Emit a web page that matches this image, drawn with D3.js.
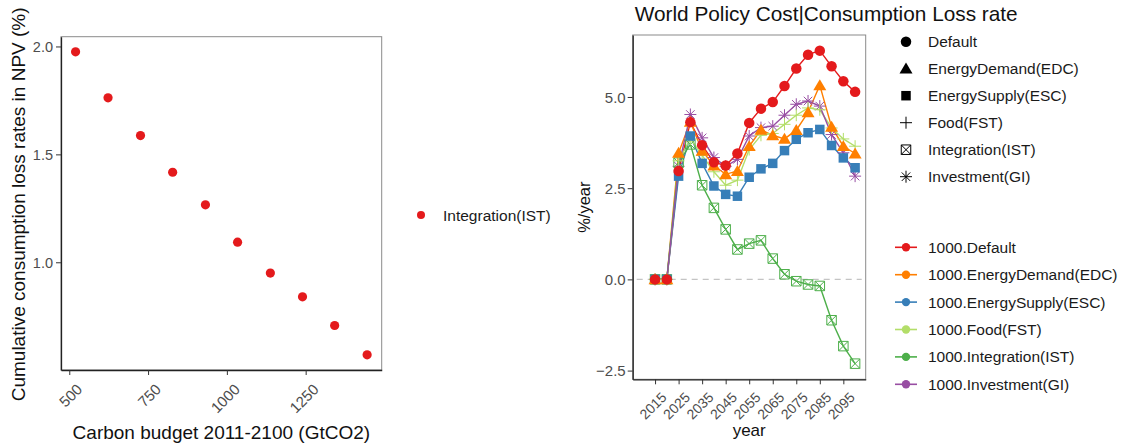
<!DOCTYPE html>
<html>
<head>
<meta charset="utf-8">
<script src="https://cdn.jsdelivr.net/npm/d3@7"></script>
<style>
  html, body { margin: 0; padding: 0; background: #fff; }
  svg text { font-family: "Liberation Sans", Arial, sans-serif; }
</style>
</head>
<body>
<svg id="chart" width="1125" height="447"></svg>
<script>
// ---- Left panel: cumulative NPV consumption loss vs carbon budget ----
const budgets = [520, 623, 726, 828, 932, 1034, 1138, 1240, 1342, 1445];
const npvLoss = [1.975, 1.762, 1.587, 1.417, 1.266, 1.093, 0.950, 0.840, 0.707, 0.571];
const budgetTicks = [500, 750, 1000, 1250];
const npvTicks = [1.0, 1.5, 2.0];
const leftLegend = "Integration(IST)";

// ---- Right panel: consumption loss rate over time by scenario ----
const years = [2015, 2020, 2025, 2030, 2035, 2040, 2045, 2050, 2055, 2060,
               2065, 2070, 2075, 2080, 2085, 2090, 2095, 2100];
const yearDomain = [2010, 2100];
const yearTicks = [2015, 2025, 2035, 2045, 2055, 2065, 2075, 2085, 2095];
const rateTicks = [-2.5, 0.0, 2.5, 5.0];

const scenarioNames = ["Default", "EnergyDemand(EDC)", "EnergySupply(ESC)",
                       "Food(FST)", "Integration(IST)", "Investment(GI)"];
const scenarioColors = ["#e41a1c", "#ff7f00", "#377eb8", "#b3de69", "#4daf4a", "#984ea3"];
const scenarioShapes = ["circle", "triangle", "square", "plus", "squarex", "asterisk"];

const rateDefault = [0, 0, 2.97, 4.31, 3.68, 3.21, 3.12, 3.45, 4.29, 4.68, 4.86, 5.30, 5.78, 6.16, 6.27, 5.84, 5.43, 5.14];
const rateEDC     = [0, 0, 3.47, 4.32, 3.52, 3.12, 2.88, 2.97, 3.65, 4.10, 3.95, 3.85, 4.09, 4.58, 5.32, 4.18, 3.65, 3.45];
const rateESC     = [0, 0, 2.83, 3.93, 3.18, 2.56, 2.33, 2.28, 2.80, 3.03, 3.18, 3.53, 3.84, 4.02, 4.11, 3.67, 3.33, 3.06];
const rateFST     = [0, 0, 3.25, 3.85, 3.40, 2.95, 2.58, 2.72, 3.56, 3.95, 4.00, 4.25, 4.50, 4.70, 4.65, 4.15, 3.85, 3.65];
const rateIST     = [0, 0, 3.20, 3.70, 2.58, 1.96, 1.37, 0.82, 0.98, 1.07, 0.57, 0.14, -0.05, -0.14, -0.18, -1.12, -1.83, -2.31];
const rateGI      = [0, 0, 3.10, 4.52, 3.88, 3.34, 3.10, 3.29, 3.93, 4.16, 4.20, 4.50, 4.80, 4.89, 4.75, 3.97, 3.47, 2.83];
const scenarioRates = [rateDefault, rateEDC, rateESC, rateFST, rateIST, rateGI];

const svg = d3.select("#chart");
const tickGray = "#4d4d4d";

// pad a numeric extent by 5% on each side
function expand(ext) {
  const pad = (ext[1] - ext[0]) * 0.05;
  return [ext[0] - pad, ext[1] + pad];
}

// marker paths centred on (0,0)
function shapePath(shape, s) {
  const h = s / 2;
  switch (shape) {
    case "circle":
      return `M${h},0A${h},${h} 0 1,1 ${-h},0A${h},${h} 0 1,1 ${h},0Z`;
    case "triangle": {
      const w = s * 0.62, t = s * 0.58;
      return `M0,${-t}L${w},${t * 0.8}L${-w},${t * 0.8}Z`;
    }
    case "square":
      return `M${-h},${-h}H${h}V${h}H${-h}Z`;
    case "plus":
      return `M${-h - 1},0H${h + 1}M0,${-h - 1}V${h + 1}`;
    case "squarex":
      return `M${-h},${-h}H${h}V${h}H${-h}ZM${-h},${-h}L${h},${h}M${h},${-h}L${-h},${h}`;
    case "asterisk": {
      const r = h + 1, d = r * 0.707;
      return `M${-r},0H${r}M0,${-r}V${r}M${-d},${-d}L${d},${d}M${d},${-d}L${-d},${d}`;
    }
  }
}
const filledShapes = new Set(["circle", "triangle", "square"]);
function markerSize(shape) {
  return { circle: 10.5, triangle: 10.5, square: 9.5, plus: 10, squarex: 9.5, asterisk: 10 }[shape];
}

// ================= LEFT PANEL =================
{
  const L = { x0: 61, x1: 381.7, y0: 36.7, y1: 370 };
  const x = d3.scaleLinear().domain(expand(d3.extent(budgets))).range([L.x0, L.x1]);
  const y = d3.scaleLinear().domain(expand(d3.extent(npvLoss))).range([L.y1, L.y0]);
  const g = svg.append("g");

  g.append("rect").attr("x", L.x0).attr("y", L.y0)
    .attr("width", L.x1 - L.x0).attr("height", L.y1 - L.y0)
    .attr("fill", "none").attr("stroke", "#8a8a8a").attr("stroke-width", 1);

  const xAxis = g.append("g").attr("transform", `translate(0,${L.y1})`)
    .call(d3.axisBottom(x).tickValues(budgetTicks).tickSize(5).tickSizeOuter(0).tickFormat(d3.format("d")));
  const yAxis = g.append("g").attr("transform", `translate(${L.x0},0)`)
    .call(d3.axisLeft(y).tickValues(npvTicks).tickSize(5).tickSizeOuter(0).tickFormat(d3.format(".1f")));
  [xAxis, yAxis].forEach(a => {
    a.select(".domain").attr("stroke", "#222").attr("stroke-width", 1.3);
    a.selectAll(".tick line").attr("stroke", "#333").attr("stroke-width", 1);
    a.selectAll(".tick text").attr("fill", tickGray).style("font-size", "14.5px");
  });
  yAxis.selectAll(".tick text").attr("x", -8).attr("dy", "0.35em");
  xAxis.selectAll(".tick text")
    .style("font-size", "15px")
    .attr("text-anchor", "end").attr("x", 0).attr("y", 0).attr("dy", "0.7em")
    .attr("transform", "translate(6,13) rotate(-45)");

  g.selectAll("circle.pt").data(budgets).join("circle")
    .attr("class", "pt")
    .attr("cx", (d) => x(d)).attr("cy", (d, i) => y(npvLoss[i]))
    .attr("r", 4.6).attr("fill", "#e41a1c");

  g.append("text").attr("x", (L.x0 + L.x1) / 2).attr("y", 439)
    .attr("text-anchor", "middle").style("font-size", "19px").attr("fill", "#111")
    .text("Carbon budget 2011-2100 (GtCO2)");
  g.append("text").attr("transform", `translate(25,${(L.y0 + L.y1) / 2 + 1}) rotate(-90)`)
    .attr("text-anchor", "middle").style("font-size", "19px").attr("fill", "#111")
    .text("Cumulative consumption loss rates in NPV (%)");

  g.append("circle").attr("cx", 421).attr("cy", 215).attr("r", 4).attr("fill", "#e41a1c");
  g.append("text").attr("x", 443).attr("y", 215).attr("dy", "0.36em")
    .style("font-size", "15.5px").attr("fill", "#1a1a1a").text(leftLegend);
}

// ================= RIGHT PANEL =================
{
  const R = { x0: 632.7, x1: 865.7, y0: 35, y1: 379.3 };
  const x = d3.scaleLinear().domain(expand(yearDomain)).range([R.x0, R.x1]);
  const allRates = scenarioRates.flat();
  const y = d3.scaleLinear().domain(expand(d3.extent(allRates))).range([R.y1, R.y0]);
  const g = svg.append("g");

  g.append("rect").attr("x", R.x0).attr("y", R.y0)
    .attr("width", R.x1 - R.x0).attr("height", R.y1 - R.y0)
    .attr("fill", "none").attr("stroke", "#8a8a8a").attr("stroke-width", 1);

  // zero reference line
  g.append("line").attr("x1", R.x0 + 4).attr("x2", R.x1 - 4)
    .attr("y1", y(0)).attr("y2", y(0))
    .attr("stroke", "#c4c4c4").attr("stroke-width", 1.2).attr("stroke-dasharray", "6,5");

  const xAxis = g.append("g").attr("transform", `translate(0,${R.y1})`)
    .call(d3.axisBottom(x).tickValues(yearTicks).tickSize(5).tickSizeOuter(0).tickFormat(d3.format("d")));
  const yAxis = g.append("g").attr("transform", `translate(${R.x0},0)`)
    .call(d3.axisLeft(y).tickValues(rateTicks).tickSize(5).tickSizeOuter(0).tickFormat(d3.format(".1f")));
  [xAxis, yAxis].forEach(a => {
    a.select(".domain").attr("stroke", "#222").attr("stroke-width", 1.3);
    a.selectAll(".tick line").attr("stroke", "#333").attr("stroke-width", 1);
    a.selectAll(".tick text").attr("fill", tickGray).style("font-size", "15px");
  });
  yAxis.selectAll(".tick text").attr("x", -7).attr("dy", "0.35em");
  xAxis.selectAll(".tick text")
    .style("font-size", "14px")
    .attr("text-anchor", "end").attr("x", 0).attr("y", 0).attr("dy", "0.7em")
    .attr("transform", "translate(5,12) rotate(-45)");

  const line = d3.line().x((d, i) => x(years[i])).y(d => y(d));
  scenarioRates.forEach((vals, s) => {
    g.append("path").datum(vals).attr("d", line)
      .attr("fill", "none").attr("stroke", scenarioColors[s]).attr("stroke-width", 1.4);
  });

  // markers: later scenarios first so the default series sits on top
  for (let s = scenarioRates.length - 1; s >= 0; s--) {
    const shape = scenarioShapes[s];
    const filled = filledShapes.has(shape);
    g.append("g").selectAll("path").data(scenarioRates[s]).join("path")
      .attr("transform", (d, i) => `translate(${x(years[i])},${y(d)})`)
      .attr("d", shapePath(shape, markerSize(shape)))
      .attr("fill", filled ? scenarioColors[s] : "none")
      .attr("stroke", filled ? "none" : scenarioColors[s])
      .attr("stroke-width", 1);
  }

  g.append("text").attr("x", R.x0 + 2).attr("y", 21)
    .style("font-size", "20.8px").attr("fill", "#111")
    .text("World Policy Cost|Consumption Loss rate");
  g.append("text").attr("x", (R.x0 + R.x1) / 2).attr("y", 436)
    .attr("text-anchor", "middle").style("font-size", "17px").attr("fill", "#111").text("year");
  g.append("text").attr("transform", `translate(590,${(R.y0 + R.y1) / 2}) rotate(-90)`)
    .attr("text-anchor", "middle").style("font-size", "16.5px").attr("fill", "#111").text("%/year");

  // shape legend
  const shapeLeg = g.append("g");
  scenarioNames.forEach((name, i) => {
    const cy = 41.7 + i * 27;
    const shape = scenarioShapes[i];
    const filled = filledShapes.has(shape);
    shapeLeg.append("path").attr("transform", `translate(906,${cy})`)
      .attr("d", shapePath(shape, markerSize(shape)))
      .attr("fill", filled ? "#000" : "none")
      .attr("stroke", filled ? "none" : "#000").attr("stroke-width", 1);
    shapeLeg.append("text").attr("x", 928).attr("y", cy).attr("dy", "0.36em")
      .style("font-size", "15.5px").attr("fill", "#1a1a1a").text(name);
  });

  // colour legend
  const colorLeg = g.append("g");
  scenarioNames.forEach((name, i) => {
    const cy = 247.3 + i * 27.4;
    colorLeg.append("line").attr("x1", 895).attr("x2", 917).attr("y1", cy).attr("y2", cy)
      .attr("stroke", scenarioColors[i]).attr("stroke-width", 1.6);
    colorLeg.append("circle").attr("cx", 906).attr("cy", cy).attr("r", 4.2)
      .attr("fill", scenarioColors[i]);
    colorLeg.append("text").attr("x", 928).attr("y", cy).attr("dy", "0.36em")
      .style("font-size", "15.5px").attr("fill", "#1a1a1a").text("1000." + name);
  });
}
</script>
</body>
</html>
